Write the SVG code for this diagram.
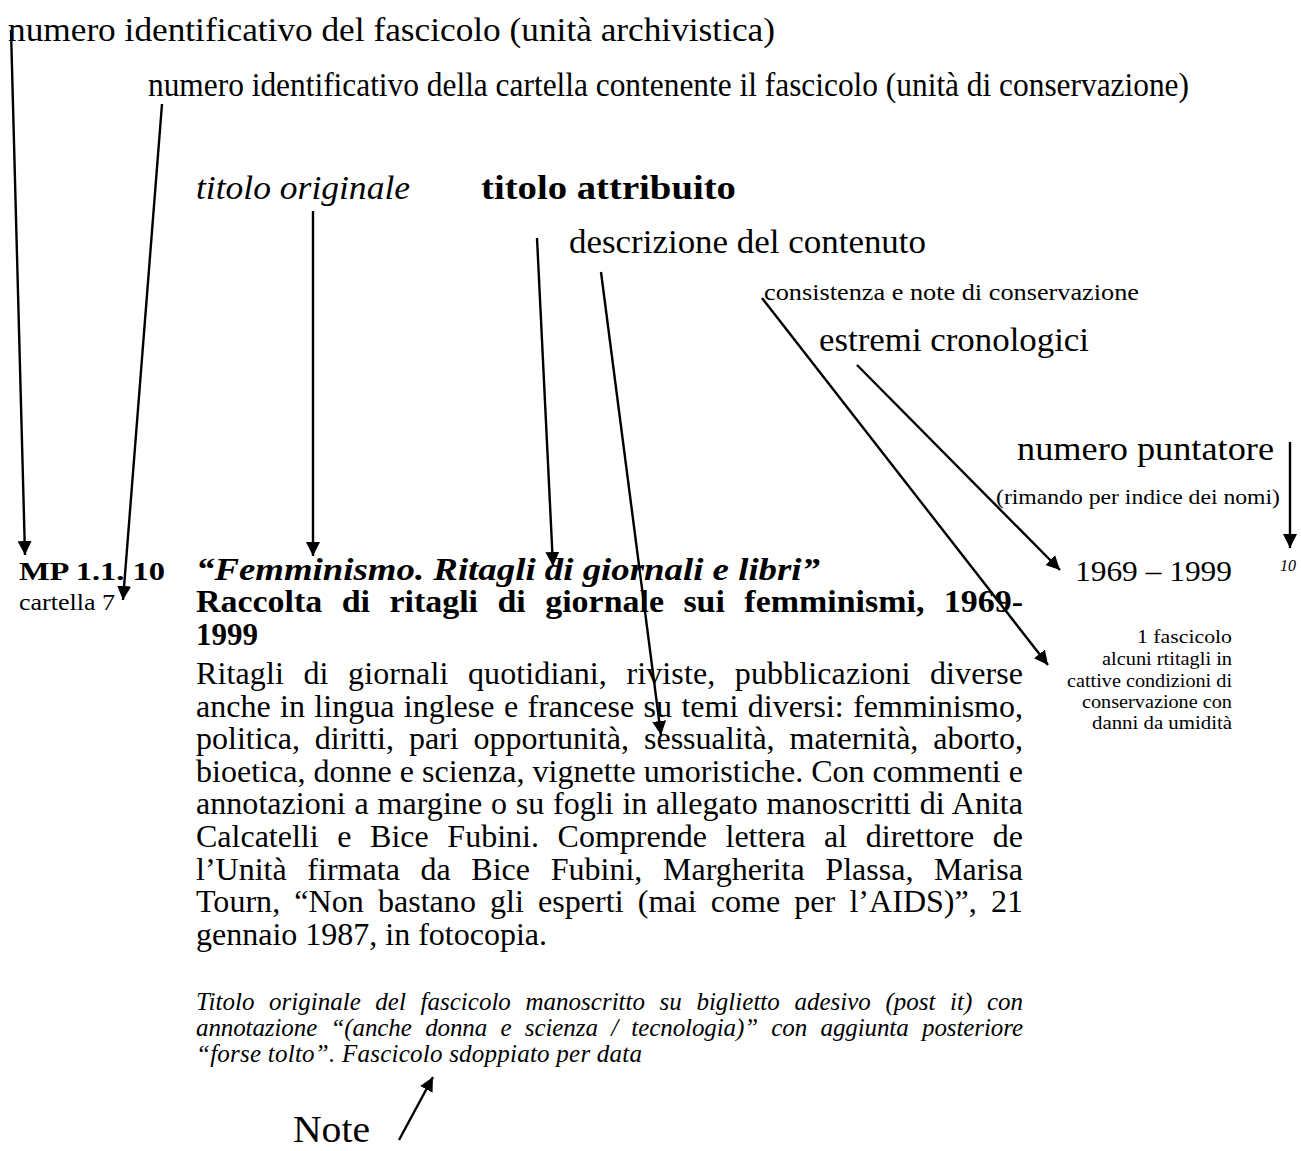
<svg xmlns="http://www.w3.org/2000/svg" width="1301" height="1151" viewBox="0 0 1301 1151">
<defs>
<marker id="ah" viewBox="0 0 14 14" refX="14" refY="7" markerWidth="14" markerHeight="14" markerUnits="userSpaceOnUse" orient="auto"><path d="M0,0 L14,7 L0,14 z" fill="#000"/></marker>
<style>
text{font-family:"Liberation Serif","Times New Roman",serif;fill:#000}
.lbl{font-size:33px}
.body{font-size:32px}
.b{font-weight:bold}
.i{font-style:italic}
.note{font-size:25px;font-style:italic}
.small{font-size:19px}
.conn line{stroke:#000;stroke-width:2.4;marker-end:url(#ah)}
</style>
</defs>
<rect width="1301" height="1151" fill="#fff"/>

<g id="label-fascicolo"><text class="lbl" x="8" y="41" textLength="767" lengthAdjust="spacingAndGlyphs">numero identificativo del fascicolo (unità archivistica)</text></g>
<g id="label-cartella"><text class="lbl" x="148" y="96" textLength="1041" lengthAdjust="spacingAndGlyphs">numero identificativo della cartella contenente il fascicolo (unità di conservazione)</text></g>
<g id="label-titolo-originale"><text class="lbl i" x="196" y="199" textLength="214" lengthAdjust="spacingAndGlyphs">titolo originale</text></g>
<g id="label-titolo-attribuito"><text class="lbl b" x="481" y="199" textLength="255" lengthAdjust="spacingAndGlyphs">titolo attribuito</text></g>
<g id="label-descrizione"><text class="lbl" x="569" y="253" textLength="357" lengthAdjust="spacingAndGlyphs">descrizione del contenuto</text></g>
<g id="label-consistenza"><text x="764" y="300" style="font-size:23px" textLength="375" lengthAdjust="spacingAndGlyphs">consistenza e note di conservazione</text></g>
<g id="label-estremi"><text class="lbl" x="819" y="351" textLength="270" lengthAdjust="spacingAndGlyphs">estremi cronologici</text></g>
<g id="label-puntatore"><text class="lbl" x="1017" y="460" textLength="257" lengthAdjust="spacingAndGlyphs">numero puntatore</text></g>
<g id="label-rimando"><text x="996" y="504" style="font-size:22px" textLength="284" lengthAdjust="spacingAndGlyphs">(rimando per indice dei nomi)</text></g>
<g id="label-note"><text x="293" y="1142" style="font-size:38px" textLength="77" lengthAdjust="spacingAndGlyphs">Note</text></g>

<g id="segnatura">
<text class="b" x="19" y="580" style="font-size:26px" textLength="146" lengthAdjust="spacingAndGlyphs">MP 1.1. 10</text>
<text x="19" y="610" style="font-size:24px" textLength="96" lengthAdjust="spacingAndGlyphs">cartella 7</text>
</g>

<g id="titolo">
<text class="b i" x="196" y="580" style="font-size:31px" textLength="624" lengthAdjust="spacingAndGlyphs">“Femminismo. Ritagli di giornali e libri”</text>
<text class="b" x="196" y="612" style="font-size:31px;word-spacing:10px" textLength="827" lengthAdjust="spacingAndGlyphs">Raccolta di ritagli di giornale sui femminismi, 1969-</text>
<text class="b" x="196" y="645" style="font-size:31px">1999</text>
</g>

<g id="descrizione">
<text class="body" x="196" y="684" style="word-spacing:11.4px" textLength="827" lengthAdjust="spacing">Ritagli di giornali quotidiani, riviste, pubblicazioni diverse</text>
<text class="body" x="196" y="717" style="word-spacing:1.4px" textLength="827" lengthAdjust="spacing">anche in lingua inglese e francese su temi diversi: femminismo,</text>
<text class="body" x="196" y="749" style="word-spacing:6.9px" textLength="827" lengthAdjust="spacing">politica, diritti, pari opportunità, sessualità, maternità, aborto,</text>
<text class="body" x="196" y="782" textLength="827" lengthAdjust="spacing">bioetica, donne e scienza, vignette umoristiche. Con commenti e</text>
<text class="body" x="196" y="814" style="word-spacing:0.7px" textLength="827" lengthAdjust="spacing">annotazioni a margine o su fogli in allegato manoscritti di Anita</text>
<text class="body" x="196" y="847" style="word-spacing:10.6px" textLength="827" lengthAdjust="spacing">Calcatelli e Bice Fubini. Comprende lettera al direttore de</text>
<text class="body" x="196" y="880" style="word-spacing:12.6px" textLength="827" lengthAdjust="spacing">l’Unità firmata da Bice Fubini, Margherita Plassa, Marisa</text>
<text class="body" x="196" y="912" style="word-spacing:6.1px" textLength="827" lengthAdjust="spacing">Tourn, “Non bastano gli esperti (mai come per l’AIDS)”, 21</text>
<text class="body" x="196" y="945">gennaio 1987, in fotocopia.</text>
</g>

<g id="note-testo">
<text class="note" x="196" y="1010" style="word-spacing:8.3px" textLength="827" lengthAdjust="spacing">Titolo originale del fascicolo manoscritto su biglietto adesivo (post it) con</text>
<text class="note" x="196" y="1036" style="word-spacing:7.2px" textLength="827" lengthAdjust="spacing">annotazione “(anche donna e scienza / tecnologia)” con aggiunta posteriore</text>
<text class="note" x="196" y="1062" textLength="446" lengthAdjust="spacing">“forse tolto”. Fascicolo sdoppiato per data</text>
</g>

<g id="estremi">
<text x="1075" y="581" style="font-size:30px" textLength="157" lengthAdjust="spacingAndGlyphs">1969 – 1999</text>
</g>

<g id="puntatore">
<text class="i" x="1280" y="571" style="font-size:17px" textLength="16" lengthAdjust="spacingAndGlyphs">10</text>
</g>

<g id="consistenza">
<text class="small" x="1232" y="643" text-anchor="end" textLength="95" lengthAdjust="spacingAndGlyphs">1 fascicolo</text>
<text class="small" x="1232" y="665" text-anchor="end" textLength="130" lengthAdjust="spacingAndGlyphs">alcuni rtitagli in</text>
<text class="small" x="1232" y="687" text-anchor="end" textLength="165" lengthAdjust="spacingAndGlyphs">cattive condizioni di</text>
<text class="small" x="1232" y="708" text-anchor="end" textLength="150" lengthAdjust="spacingAndGlyphs">conservazione con</text>
<text class="small" x="1232" y="729" text-anchor="end" textLength="140" lengthAdjust="spacingAndGlyphs">danni da umidità</text>
</g>

<g id="connectors" class="conn">
<line x1="11" y1="30" x2="25" y2="555"/>
<line x1="162" y1="104" x2="123" y2="600"/>
<line x1="313" y1="211" x2="313" y2="556"/>
<line x1="537" y1="238" x2="553" y2="566"/>
<line x1="601" y1="272" x2="661" y2="735"/>
<line x1="762" y1="298" x2="1048" y2="665"/>
<line x1="857" y1="365" x2="1060" y2="570"/>
<line x1="1290" y1="442" x2="1290" y2="548"/>
<line x1="399" y1="1140" x2="433" y2="1077"/>
</g>
</svg>
